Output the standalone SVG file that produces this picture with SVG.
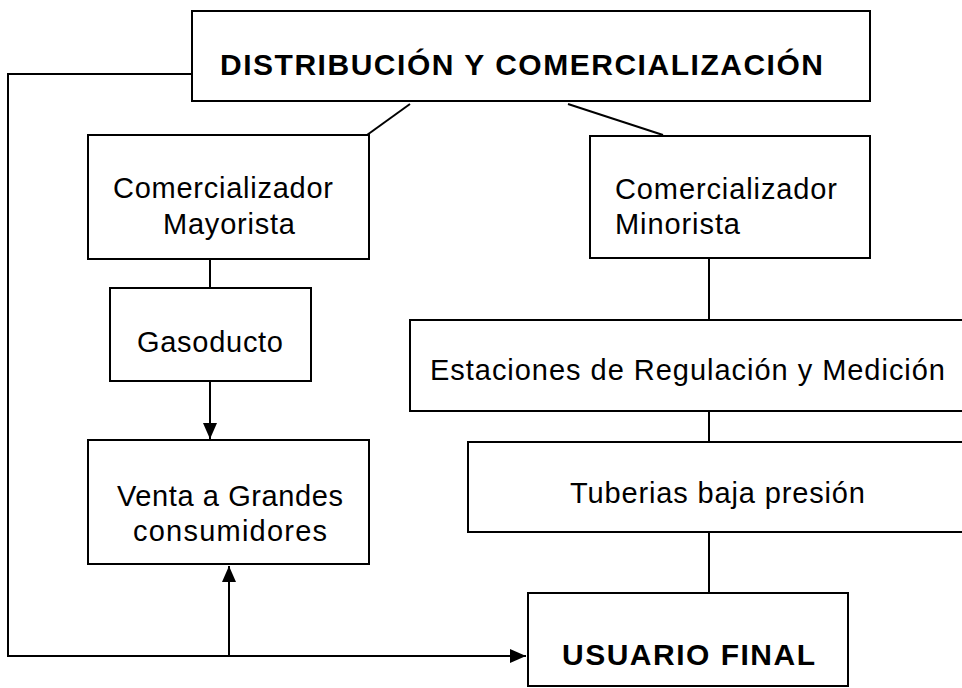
<svg xmlns="http://www.w3.org/2000/svg" width="962" height="688" viewBox="0 0 962 688">
<style>
.box{fill:#fff;stroke:#000;stroke-width:2}
.t{font-family:"Liberation Sans",Arial,sans-serif;font-size:29px;fill:#000}
.b{font-family:"Liberation Sans",Arial,sans-serif;font-size:30px;font-weight:bold;fill:#000}
.c{fill:none;stroke:#000;stroke-width:2}
</style>
<defs>
<marker id="ah" viewBox="0 0 16 14" refX="16" refY="7" markerWidth="16" markerHeight="14" markerUnits="userSpaceOnUse" orient="auto">
<path d="M0,0 L16,7 L0,14 z" fill="#000"/>
</marker>
</defs>
<rect width="962" height="688" fill="#fff"/>
<g id="connectors">
<path class="c" d="M192,74 H8 V656 H526" marker-end="url(#ah)"/>
<path class="c" d="M229,656 V566" marker-end="url(#ah)"/>
<path class="c" d="M210,381 V439" marker-end="url(#ah)"/>
<path class="c" d="M410,104 L367,135"/>
<path class="c" d="M568,104 L663,135"/>
<path class="c" d="M210,259 V288"/>
<path class="c" d="M709,258 V320"/>
<path class="c" d="M709,411 V442"/>
<path class="c" d="M709,532 V593"/>
</g>
<g id="distribucion">
<rect class="box" x="192" y="11" width="678" height="90"/>
<text class="b" x="220" y="75" textLength="603" lengthAdjust="spacing">DISTRIBUCIÓN Y COMERCIALIZACIÓN</text>
</g>
<g id="mayorista">
<rect class="box" x="88" y="135" width="281" height="124"/>
<text class="t" x="113" y="198" textLength="220" lengthAdjust="spacing">Comercializador</text>
<text class="t" x="163" y="234" textLength="132" lengthAdjust="spacing">Mayorista</text>
</g>
<g id="minorista">
<rect class="box" x="590" y="136" width="280" height="122"/>
<text class="t" x="615" y="199" textLength="222" lengthAdjust="spacing">Comercializador</text>
<text class="t" x="615" y="234" textLength="125" lengthAdjust="spacing">Minorista</text>
</g>
<g id="gasoducto">
<rect class="box" x="110" y="288" width="201" height="93"/>
<text class="t" x="137" y="352" textLength="146" lengthAdjust="spacing">Gasoducto</text>
</g>
<g id="venta">
<rect class="box" x="88" y="440" width="281" height="124"/>
<text class="t" x="117" y="506" textLength="226" lengthAdjust="spacing">Venta a Grandes</text>
<text class="t" x="133" y="541" textLength="194" lengthAdjust="spacing">consumidores</text>
</g>
<g id="estaciones">
<rect class="box" x="410" y="320" width="560" height="91"/>
<text class="t" x="430" y="380" textLength="515" lengthAdjust="spacing">Estaciones de Regulación y Medición</text>
</g>
<g id="tuberias">
<rect class="box" x="468" y="442" width="502" height="90"/>
<text class="t" x="570" y="503" textLength="295" lengthAdjust="spacing">Tuberias baja presión</text>
</g>
<g id="usuario">
<rect class="box" x="528" y="593" width="320" height="93"/>
<text class="b" x="562" y="665" textLength="253" lengthAdjust="spacing">USUARIO FINAL</text>
</g>
</svg>
